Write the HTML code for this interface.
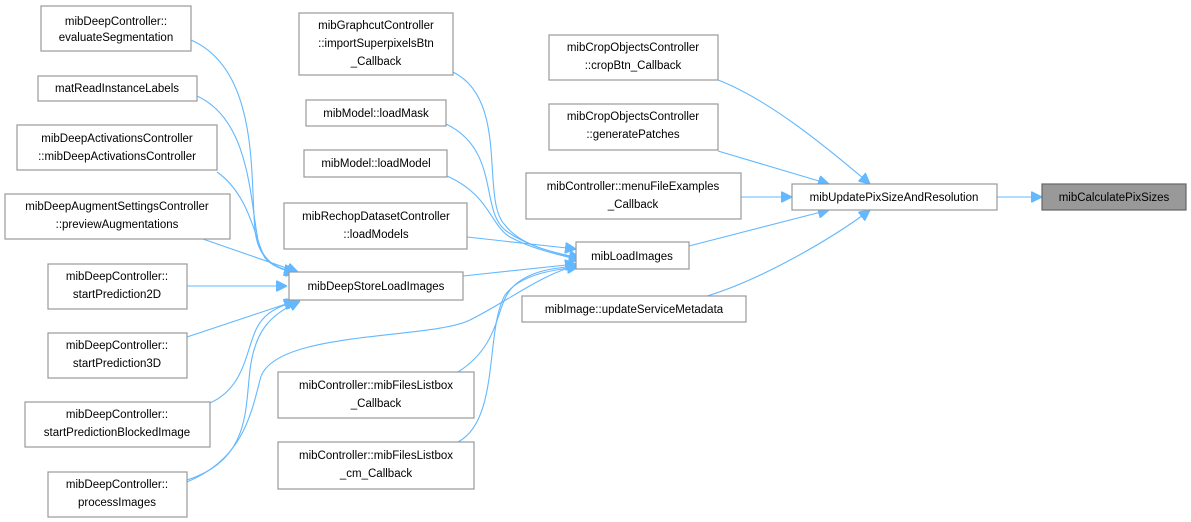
<!DOCTYPE html>
<html><head><meta charset="utf-8"><style>
body{margin:0;background:#fff;}
svg{display:block;font-family:"Liberation Sans",sans-serif;font-size:11.5px;}
rect{fill:#fff;stroke:#999;stroke-width:1.2;}
text{fill:#000;text-anchor:middle;}
path{fill:none;stroke:#63b8ff;stroke-width:1.1;}
</style></head><body>
<svg width="1191" height="522" viewBox="0 0 1191 522">
<defs><marker id="a" viewBox="0 0 10 10" refX="10" refY="5" markerWidth="11" markerHeight="11" markerUnits="userSpaceOnUse" orient="auto"><path d="M0,0 L10,5 L0,10 z" style="fill:#63b8ff;stroke:#63b8ff"/></marker></defs>
<!-- edges to mibDeepStoreLoadImages -->
<path marker-end="url(#a)" d="M191,40 C260,70 250,180 255,230 C258,260 275,268 295,272"/>
<path marker-end="url(#a)" d="M197,96 C250,120 250,200 258,240 C262,260 275,268 295,273"/>
<path marker-end="url(#a)" d="M217,172 C250,195 255,240 265,258 C272,266 282,270 297,273"/>
<path marker-end="url(#a)" d="M200,238 L298,272"/>
<path marker-end="url(#a)" d="M187,286 L287,286"/>
<path marker-end="url(#a)" d="M187,337 L295,301"/>
<path marker-end="url(#a)" d="M210,403 C250,385 245,340 262,320 C270,310 283,305 297,301"/>
<path marker-end="url(#a)" d="M187,480 C250,460 245,410 250,370 C255,330 270,315 300,301"/>
<!-- edges to mibLoadImages -->
<path marker-end="url(#a)" d="M463,276 L576,264"/>
<path marker-end="url(#a)" d="M453,72 C510,100 480,200 505,225 C520,245 550,252 580,258"/>
<path marker-end="url(#a)" d="M446,124 C500,150 480,210 505,230 C525,245 550,252 580,259"/>
<path marker-end="url(#a)" d="M447,176 C490,195 490,225 510,237 C530,248 555,254 580,260"/>
<path marker-end="url(#a)" d="M467,237 L576,249"/>
<path marker-end="url(#a)" d="M187,482 C240,460 250,420 260,380 C270,330 430,340 470,320 C510,300 540,275 578,265"/>
<path marker-end="url(#a)" d="M458,372 C500,345 495,310 510,290 C525,272 550,268 578,266"/>
<path marker-end="url(#a)" d="M458,442 C500,420 485,330 505,295 C520,275 550,270 578,267"/>
<!-- edges to mibUpdatePixSizeAndResolution -->
<path marker-end="url(#a)" d="M718,80 C770,100 830,150 870,184"/>
<path marker-end="url(#a)" d="M718,151 L829,184"/>
<path marker-end="url(#a)" d="M741,197 L792,197"/>
<path marker-end="url(#a)" d="M689,246 L829,210"/>
<path marker-end="url(#a)" d="M707,296 C760,280 830,240 870,210"/>
<path marker-end="url(#a)" d="M997,197 L1042,197"/>
<!-- nodes -->
<rect x="41" y="6" width="150" height="45"/><text x="116" y="25">mibDeepController::</text><text x="116" y="41">evaluateSegmentation</text>
<rect x="38" y="76" width="159" height="25"/><text x="117" y="92">matReadInstanceLabels</text>
<rect x="17" y="125" width="200" height="45"/><text x="117" y="142">mibDeepActivationsController</text><text x="117" y="160">::mibDeepActivationsController</text>
<rect x="5" y="194" width="225" height="45"/><text x="117" y="210">mibDeepAugmentSettingsController</text><text x="117" y="228">::previewAugmentations</text>
<rect x="48" y="264" width="139" height="45"/><text x="117" y="280">mibDeepController::</text><text x="117" y="298">startPrediction2D</text>
<rect x="48" y="333" width="139" height="45"/><text x="117" y="349">mibDeepController::</text><text x="117" y="367">startPrediction3D</text>
<rect x="25" y="402" width="185" height="45"/><text x="117" y="418">mibDeepController::</text><text x="117" y="436">startPredictionBlockedImage</text>
<rect x="48" y="472" width="139" height="45"/><text x="117" y="488">mibDeepController::</text><text x="117" y="506">processImages</text>
<rect x="299" y="13" width="154" height="62"/><text x="376" y="29">mibGraphcutController</text><text x="376" y="47">::importSuperpixelsBtn</text><text x="376" y="65">_Callback</text>
<rect x="306" y="100" width="140" height="26"/><text x="376" y="117">mibModel::loadMask</text>
<rect x="304" y="150" width="143" height="27"/><text x="376" y="167">mibModel::loadModel</text>
<rect x="284" y="203" width="183" height="46"/><text x="376" y="220">mibRechopDatasetController</text><text x="376" y="238">::loadModels</text>
<rect x="289" y="272" width="174" height="28"/><text x="376" y="290">mibDeepStoreLoadImages</text>
<rect x="278" y="372" width="196" height="46"/><text x="376" y="389">mibController::mibFilesListbox</text><text x="376" y="407">_Callback</text>
<rect x="278" y="442" width="196" height="47"/><text x="376" y="459">mibController::mibFilesListbox</text><text x="376" y="477">_cm_Callback</text>
<rect x="576" y="242" width="113" height="27"/><text x="632" y="260">mibLoadImages</text>
<rect x="549" y="35" width="169" height="45"/><text x="633" y="51">mibCropObjectsController</text><text x="633" y="69">::cropBtn_Callback</text>
<rect x="549" y="104" width="169" height="46"/><text x="633" y="120">mibCropObjectsController</text><text x="633" y="138">::generatePatches</text>
<rect x="526" y="173" width="215" height="46"/><text x="633" y="190">mibController::menuFileExamples</text><text x="633" y="208">_Callback</text>
<rect x="522" y="296" width="224" height="26"/><text x="634" y="313">mibImage::updateServiceMetadata</text>
<rect x="792" y="184" width="205" height="26"/><text x="894" y="201">mibUpdatePixSizeAndResolution</text>
<rect x="1042" y="184" width="144" height="26" style="fill:#999;stroke:#666"/><text x="1114" y="201">mibCalculatePixSizes</text>
</svg>
</body></html>
